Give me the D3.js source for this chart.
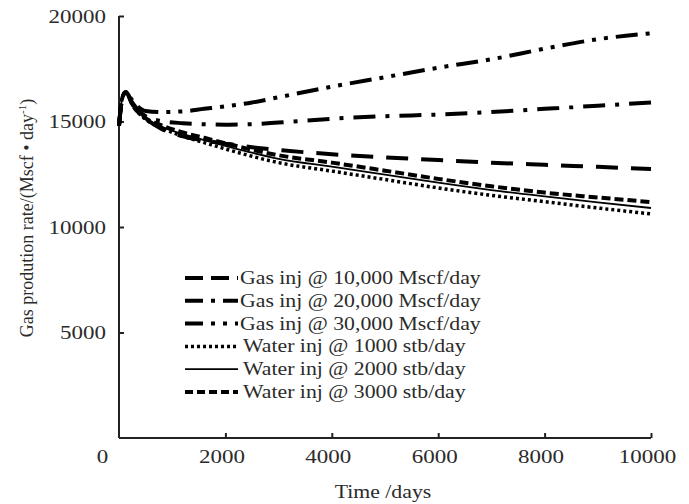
<!DOCTYPE html>
<html>
<head>
<meta charset="utf-8">
<script src="https://cdn.jsdelivr.net/npm/d3@7"></script>
<style>
body{margin:0;background:#fff;}
text{font-family:"Liberation Serif","Times New Roman",serif;fill:#2b2b2b;}
.axis path,.axis line{stroke:#222;stroke-width:2;}
.axis text{font-size:19px;}
.curve{fill:none;stroke:#000;}
</style>
</head>
<body>
<div id="chart"></div>
<script>
// time in days, rates in Mscf/day
var days = [0,60,130,250,500,800,1200,1600,2000,2500,3000,4000,5000,6000,7000,8000,9000,10000];
var gas10 = [14800,16100,16400,15850,15150,14650,14300,14100,13950,13780,13650,13450,13300,13170,13050,12950,12850,12750];
var gas20 = [14800,16100,16400,15900,15250,15020,14920,14870,14850,14870,14950,15130,15250,15330,15450,15600,15750,15900];
var gas30 = [14800,16100,16400,16000,15500,15450,15480,15600,15720,15900,16150,16650,17100,17550,17950,18450,18900,19180];
var water1000 = [14800,16100,16400,15800,15100,14700,14300,14000,13700,13350,13050,12650,12250,11850,11500,11200,10900,10620];
var water2000 = [14800,16100,16400,15800,15130,14760,14400,14120,13850,13520,13230,12860,12480,12100,11750,11450,11170,10900];
var water3000 = [14800,16100,16400,15800,15160,14820,14480,14230,13970,13660,13400,13050,12670,12280,11930,11630,11400,11180];

var seriesNames = ['Gas inj @ 10,000 Mscf/day','Gas inj @ 20,000 Mscf/day','Gas inj @ 30,000 Mscf/day',
	'Water inj @ 1000 stb/day','Water inj @ 2000 stb/day','Water inj @ 3000 stb/day'];
var xTicks = [0,2000,4000,6000,8000,10000];
var yTicks = [5000,10000,15000,20000];

var styles = [
	{w:4,dash:'22,13'},
	{w:4,dash:'22,10,4,10'},
	{w:4,dash:'22,8,4,8,4,8'},
	{w:3.5,dash:'3,3'},
	{w:1.8,dash:null},
	{w:4,dash:'9,4'}
];
var sx = 1.21; // the text in the picture is a little wide

var W = 689, H = 504;
var svg = d3.select('#chart').append('svg').attr('width',W).attr('height',H);

var x = d3.scaleLinear().domain([0,10000]).range([119,651]);
var y = d3.scaleLinear().domain([0,20000]).range([438,16]);

var series = [gas10,gas20,gas30,water1000,water2000,water3000].map(function(vals,i){
	return {name:seriesNames[i],style:styles[i],pts:vals.map(function(v,j){return [days[j],v];})};
});

// axes, ticks point inward
var xAxis = svg.append('g').attr('class','axis')
	.attr('transform','translate(0,438)')
	.call(d3.axisBottom(x).tickValues(xTicks).tickSizeInner(-5).tickSizeOuter(0).tickPadding(12).tickFormat(d3.format('d')));
xAxis.selectAll('.tick text').attr('transform',function(d){
	return 'translate('+(d===0?-17:-4)+',0) scale('+sx+',1)';});
xAxis.selectAll('.tick').filter(function(d){return d===0;}).select('line').remove();

var yAxis = svg.append('g').attr('class','axis')
	.attr('transform','translate(119,0)')
	.call(d3.axisLeft(y).tickValues(yTicks).tickSizeInner(-5).tickSizeOuter(0).tickPadding(13).tickFormat(d3.format('d')));
yAxis.selectAll('.tick text').attr('x',0).attr('transform','translate(-13,0) scale('+sx+',1)');
yAxis.select('.domain').attr('d','M0,'+y(0)+'V'+y(20000));
xAxis.select('.domain').attr('d','M'+x(0)+',0H'+x(10000));

var line = d3.line()
	.x(function(d){return x(d[0]);})
	.y(function(d){return y(d[1]);})
	.curve(d3.curveMonotoneX);

svg.selectAll('.curve')
	.data(series).enter()
	.append('path')
		.attr('class','curve')
		.attr('d',function(d){return line(d.pts);})
		.attr('stroke-width',function(d){return d.style.w;})
		.attr('stroke-dasharray',function(d){return d.style.dash;});

// legend
var leg = svg.selectAll('.leg')
	.data(series).enter()
	.append('g')
		.attr('class','leg')
		.attr('transform',function(d,i){return 'translate(185,'+(278+i*22.8)+')';});
leg.append('line')
	.attr('x1',0).attr('x2',53).attr('y1',0).attr('y2',0)
	.attr('stroke','#000')
	.attr('stroke-width',function(d){return d.style.w;})
	.attr('stroke-dasharray',function(d,i){
		if(i===0) return '18,8';
		if(i===1) return '18,8,4,8';
		if(i===2) return '18,8,4,8,4,8';
		if(i===5) return '8,4';
		return d.style.dash;});
leg.append('text')
	.attr('transform',function(d,i){return 'translate('+(i<3?55:58)+',6) scale('+sx+',1)';})
	.style('font-size','18px')
	.text(function(d){return d.name;});

// axis titles
svg.append('text')
	.attr('transform','translate(383,498) scale('+sx+',1)')
	.attr('text-anchor','middle')
	.style('font-size','18px')
	.text('Time /days');

var yl = svg.append('text')
	.attr('transform','translate(33,218) rotate(-90)')
	.attr('text-anchor','middle')
	.style('font-size','18px');
yl.append('tspan').text('Gas prodution rate/(Mscf • day');
yl.append('tspan').attr('dy','-7').style('font-size','11px').text('-1');
yl.append('tspan').attr('dy','7').text(')');
</script>
</body>
</html>
